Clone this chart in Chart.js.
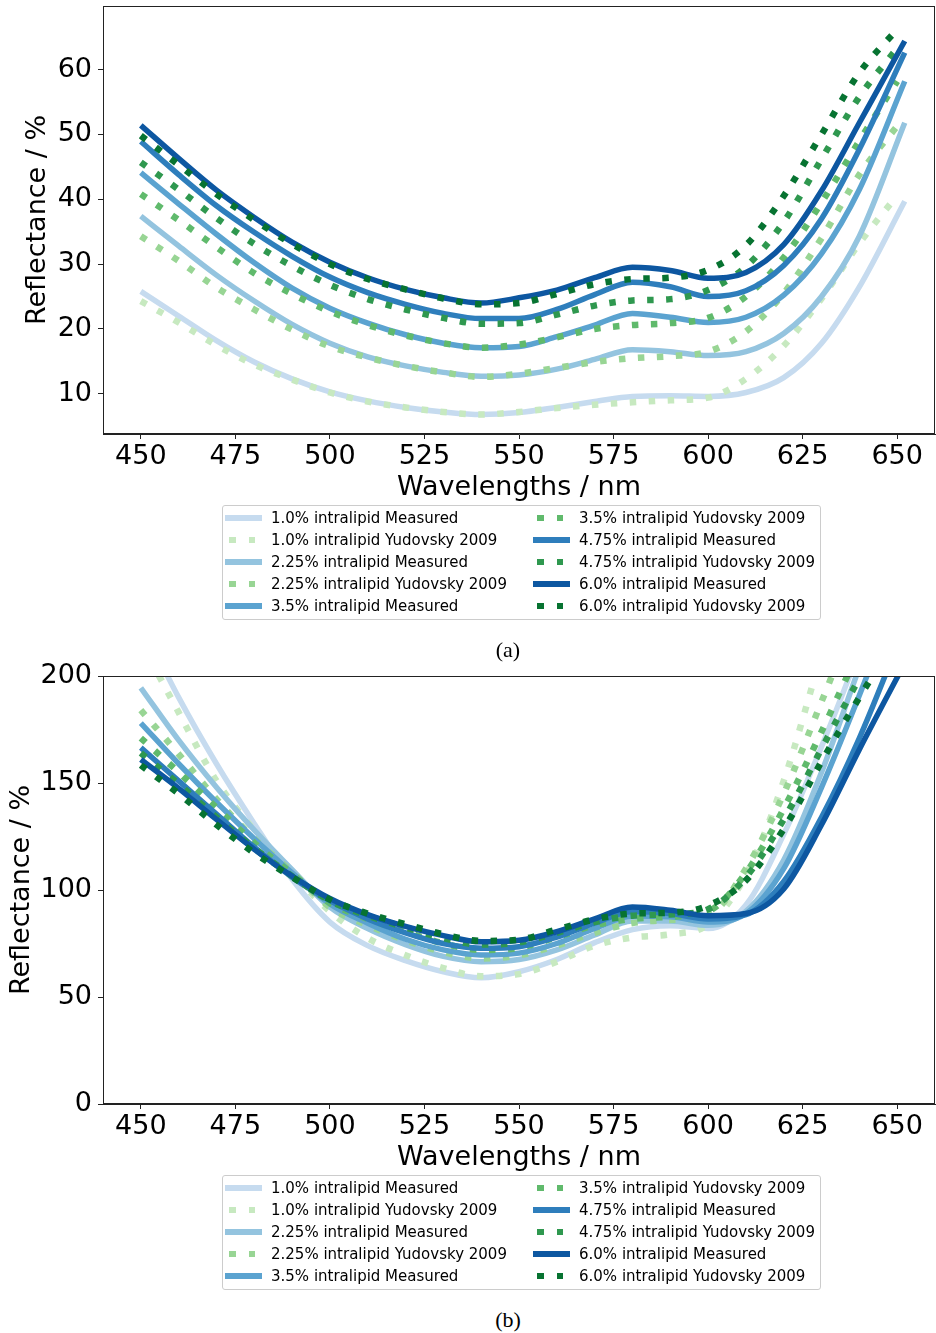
<!DOCTYPE html>
<html>
<head>
<meta charset="utf-8">
<script src="https://cdn.jsdelivr.net/npm/chart.js@4.4.0/dist/chart.umd.min.js"></script>
<style>
  body { margin: 0; background: #fff; }
  #page { position: relative; width: 936px; height: 1333px; overflow: hidden; font-family: "DejaVu Sans", sans-serif; }
  canvas { position: absolute; left: 0; }
  .legend { position: absolute; left: 222px; width: 597px; height: 113px; border: 1px solid #cccccc; border-radius: 3px; background: rgba(255,255,255,0.8); z-index: 2; }
  .item { position: absolute; height: 20px; width: 290px; font-size: 15px; line-height: 20px; white-space: nowrap; color: #000; }
  .solid { position: absolute; top: 7.25px; width: 37px; height: 5.5px; }
  .dot { position: absolute; top: 6.75px; width: 6.5px; height: 6.5px; }
  .caption { position: absolute; left: 408px; width: 200px; text-align: center; font-family: "Liberation Serif", "Times New Roman", serif; font-size: 22px; line-height: 24px; color: #000; z-index: 2; }
</style>
</head>
<body>
<div id="page">
  <canvas id="chartA" width="936" height="510" style="top:0px"></canvas>
  <canvas id="chartB" width="936" height="525" style="top:655px"></canvas>
  <div class="legend" id="legendA" style="top:505px"></div>
  <div class="caption" style="top:638px">(a)</div>
  <div class="legend" id="legendB" style="top:1175px"></div>
  <div class="caption" style="top:1308px">(b)</div>
</div>
<script>
// wavelengths (nm)
const wavelengthsMeasured = [450, 460, 470, 480, 490, 500, 510, 520, 530, 540, 550, 560, 570, 580, 590, 600, 610, 620, 630, 640, 652];
const wavelengthsModel    = [450, 460, 470, 480, 490, 500, 510, 520, 530, 540, 550, 560, 570, 580, 590, 600, 610, 620, 630, 640, 650];

const concentrations = ['1.0', '2.25', '3.5', '4.75', '6.0'];
const measuredColors = ['#c6dbef', '#94c4df', '#5ba3d0', '#2e7ebc', '#0d57a1'];
const modelColors    = ['#c7e9c0', '#98d594', '#60ba6c', '#2f984f', '#077331'];

// (a) reflectance, %
const measA_10  = [25.8, 22.0, 18.2, 14.9, 12.3, 10.3, 8.9, 7.9, 7.2, 6.8, 7.1, 7.9, 8.8, 9.6, 9.7, 9.6, 10.2, 12.5, 17.8, 26.5, 39.7];
const measA_225 = [37.4, 32.8, 28.3, 24.3, 20.7, 17.8, 15.7, 14.3, 13.3, 12.7, 12.9, 13.8, 15.3, 16.8, 16.5, 15.9, 16.5, 19.3, 25.0, 34.3, 51.8];
const measA_35  = [44.1, 39.3, 34.6, 30.2, 26.3, 23.2, 20.9, 19.1, 17.8, 17.1, 17.3, 18.8, 20.6, 22.4, 21.8, 21.0, 21.8, 25.2, 31.6, 41.5, 58.2];
const measA_475 = [48.9, 43.8, 39.0, 34.9, 31.2, 28.0, 25.6, 23.8, 22.4, 21.6, 21.6, 23.0, 25.3, 27.2, 26.5, 25.0, 25.9, 29.8, 37.0, 47.7, 62.6];
const measA_60  = [51.4, 46.3, 41.4, 37.2, 33.4, 30.3, 27.9, 26.1, 24.8, 24.0, 24.8, 26.0, 27.9, 29.5, 29.0, 27.8, 28.7, 33.0, 41.3, 51.8, 64.4];

const yudA_10  = [24.3, 21.0, 17.5, 14.5, 12.2, 10.2, 8.8, 7.9, 7.2, 6.8, 7.2, 7.8, 8.3, 8.7, 9.0, 9.4, 12.3, 17.4, 24.7, 33.2, 40.6];
const yudA_225 = [34.3, 30.5, 26.4, 23.0, 19.9, 17.3, 15.6, 14.3, 13.3, 12.6, 13.1, 14.0, 14.9, 15.5, 15.8, 16.5, 19.6, 25.5, 34.0, 43.8, 51.3];
const yudA_35  = [40.8, 36.8, 32.6, 28.6, 25.4, 22.7, 20.6, 19.0, 17.8, 17.1, 17.6, 18.7, 20.0, 20.6, 20.9, 21.7, 25.0, 31.0, 39.5, 49.0, 58.2];
const yudA_475 = [45.7, 41.5, 37.1, 33.1, 29.7, 26.8, 24.6, 23.0, 21.7, 20.8, 20.9, 22.2, 23.6, 24.4, 24.6, 26.0, 29.6, 36.5, 46.2, 55.8, 63.3];
const yudA_60  = [49.8, 45.3, 40.8, 36.8, 33.1, 30.0, 27.7, 26.1, 24.7, 23.8, 24.0, 25.4, 26.9, 27.7, 27.9, 29.1, 32.9, 40.5, 50.0, 59.5, 66.2];

// (b) reflectance, %
const measB_10  = [225, 190, 159, 131, 105, 85, 74, 67, 61.8, 59, 61.8, 67.5, 75.4, 81.5, 83.3, 82, 93, 126, 167, 212, 270];
const measB_225 = [194.5, 170, 148, 128, 109.5, 92, 82, 74.5, 69, 66.5, 67.5, 72, 79, 85.5, 85.5, 83.5, 90, 114, 155, 204, 260];
const measB_35  = [178, 159, 141, 124, 108, 93.5, 84.5, 77, 72, 69.6, 70.5, 75, 82, 87.8, 87.5, 85, 89, 110, 148, 191, 245];
const measB_475 = [166.5, 151, 135.5, 120, 106, 95, 86.5, 80, 75, 72.8, 73.5, 78, 84.5, 90, 89, 86.5, 88.5, 104, 134, 171, 223];
const measB_60  = [161, 147.5, 133, 119, 106.5, 96, 88.5, 83, 78.7, 75.8, 76.5, 80.5, 86.5, 92, 90.5, 88, 89, 100.5, 130.5, 165.7, 206];

const yudB_10  = [216, 183, 151, 128, 108, 90, 77.5, 69.5, 63.5, 59.7, 60.7, 66.5, 74, 77.8, 79.3, 84, 107, 151, 210, 265, 320];
const yudB_225 = [184, 163.5, 142.5, 124, 108.5, 92, 83.5, 76.5, 71, 68, 69.5, 74, 80, 84.5, 86, 88, 110, 145, 188, 232, 275];
const yudB_35  = [171, 155, 138.5, 122, 107.5, 94, 86.5, 80.5, 75, 72, 73, 78, 83.5, 86.5, 87.5, 90, 108, 138, 174, 212, 248];
const yudB_475 = [164, 149.5, 134, 119.5, 106.5, 95, 88, 82.5, 77.5, 74.5, 75.5, 80, 85, 88, 88.6, 91, 106, 133, 166, 199, 230];
const yudB_60  = [158.3, 145, 130.5, 117.3, 106, 95.5, 89, 84, 79.3, 76.2, 76.8, 81.5, 86.3, 89, 89.4, 92.7, 104.5, 128.5, 160, 190, 218];

const measuredA = [measA_10, measA_225, measA_35, measA_475, measA_60];
const modelA = [yudA_10, yudA_225, yudA_35, yudA_475, yudA_60];
const measuredB = [measB_10, measB_225, measB_35, measB_475, measB_60];
const modelB = [yudB_10, yudB_225, yudB_35, yudB_475, yudB_60];

Chart.defaults.font.family = '"DejaVu Sans", sans-serif';
Chart.defaults.color = '#000';

function toPoints(xs, ys) {
  return xs.map((x, i) => ({ x: x, y: ys[i] }));
}

function makeDatasets(measured, model) {
  const sets = [];
  concentrations.forEach((c, i) => {
    sets.push({
      label: c + '% intralipid Measured',
      data: toPoints(wavelengthsMeasured, measured[i]),
      borderColor: measuredColors[i],
      borderWidth: 5.5,
      dotted: false
    });
    sets.push({
      label: c + '% intralipid Yudovsky 2009',
      data: toPoints(wavelengthsModel, model[i]),
      borderColor: modelColors[i],
      borderWidth: 6.5,
      borderDash: [6.5, 12.5],
      borderCapStyle: 'butt',
      dotted: true
    });
  });
  // later series drawn on top, like matplotlib
  sets.forEach((s, k) => { s.order = sets.length - k; s.clip = 0; });
  return sets;
}

const frame = {
  id: 'frame',
  afterDraw(chart) {
    const { ctx, chartArea: a } = chart;
    ctx.save();
    ctx.strokeStyle = '#222';
    ctx.lineWidth = 1;
    ctx.strokeRect(Math.round(a.left) + 0.5, Math.round(a.top) + 0.5,
                   Math.round(a.right - a.left) - 1, Math.round(a.bottom - a.top) - 1);
    ctx.restore();
  }
};

const tickFont = { size: 27, lineHeight: 1 };
const titleFont = { size: 27, lineHeight: 1 };

function makeChart(id, datasets, yMin, yMax, yStep, yTitlePad, padTop) {
  return new Chart(document.getElementById(id), {
    type: 'line',
    data: { datasets: datasets },
    options: {
      responsive: false,
      animation: false,
      devicePixelRatio: 1,
      layout: { padding: { top: padTop, right: 1, left: 0, bottom: 0 } },
      elements: {
        point: { radius: 0 },
        line: { cubicInterpolationMode: 'monotone', fill: false }
      },
      plugins: { legend: { display: false }, tooltip: { enabled: false } },
      scales: {
        x: {
          type: 'linear',
          min: 440, max: 660,
          afterFit: s => { s.height = 76; s.paddingLeft = 0; s.paddingRight = 0; },
          ticks: { stepSize: 25, includeBounds: false, autoSkip: false, maxRotation: 0, font: tickFont, padding: 4, color: '#000' },
          grid: { drawOnChartArea: false, tickLength: 5, color: '#222' },
          border: { color: '#222' },
          title: { display: true, text: 'Wavelengths / nm', font: titleFont, color: '#000', padding: { top: 0, bottom: 9 } }
        },
        y: {
          type: 'linear',
          min: yMin, max: yMax,
          afterFit: s => { s.width = 103; s.paddingTop = 0; s.paddingBottom = 0; },
          ticks: { stepSize: yStep, includeBounds: false, autoSkip: false, font: tickFont, padding: 6, color: '#000' },
          grid: { drawOnChartArea: false, tickLength: 5, color: '#222' },
          border: { color: '#222' },
          title: { display: true, text: 'Reflectance / %', font: titleFont, color: '#000', padding: { top: yTitlePad, bottom: 0 } }
        }
      }
    },
    plugins: [frame]
  });
}

function buildLegend(el, datasets) {
  // two columns, filled column by column
  datasets.forEach((ds, k) => {
    const col = k < 5 ? 0 : 1;
    const row = k % 5;
    const item = document.createElement('div');
    item.className = 'item';
    item.style.top = (2 + 22 * row) + 'px';
    item.style.left = (col === 0 ? 2 : 310) + 'px';
    if (ds.dotted) {
      [4, 23.5].forEach(off => {
        const d = document.createElement('span');
        d.className = 'dot';
        d.style.left = off + 'px';
        d.style.background = ds.borderColor;
        item.appendChild(d);
      });
    } else {
      const l = document.createElement('span');
      l.className = 'solid';
      l.style.left = '0px';
      l.style.background = ds.borderColor;
      item.appendChild(l);
    }
    const t = document.createElement('span');
    t.style.position = 'absolute';
    t.style.left = '46px';
    t.textContent = ds.label;
    item.appendChild(t);
    el.appendChild(item);
  });
}

const setsA = makeDatasets(measuredA, modelA);
const setsB = makeDatasets(measuredB, modelB);
makeChart('chartA', setsA, 3.8, 69.8, 10, 24.5, 6);
makeChart('chartB', setsB, 0, 200, 50, 8.5, 21);
buildLegend(document.getElementById('legendA'), setsA);
buildLegend(document.getElementById('legendB'), setsB);
</script>
</body>
</html>
